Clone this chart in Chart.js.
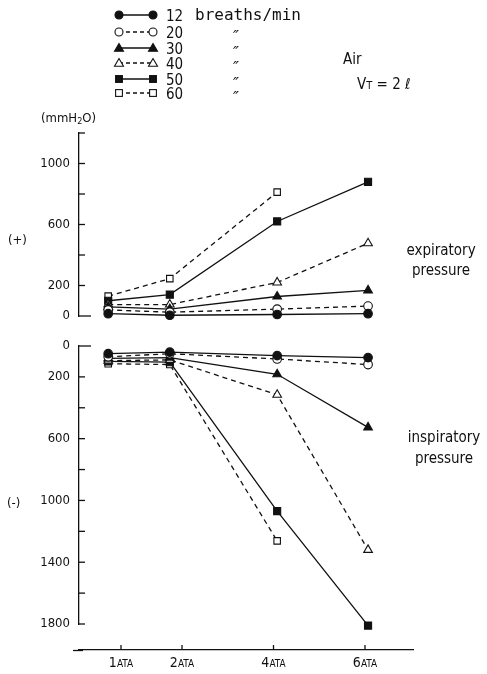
<!DOCTYPE html>
<html><head><meta charset="utf-8">
<script src="https://cdn.jsdelivr.net/npm/chart.js@4/dist/chart.umd.min.js"></script>
<style>
html,body{margin:0;padding:0;background:#fff;}
#wrap{position:relative;width:487px;height:674px;overflow:hidden;font-family:"DejaVu Sans Condensed","DejaVu Sans",sans-serif;color:#111;}
#c{position:absolute;left:0;top:0;}
#leg{position:absolute;left:0;top:0;}
.t{position:absolute;white-space:nowrap;line-height:1;}
</style></head><body>
<div id="wrap">
<canvas id="c" width="487" height="674"></canvas>
<svg id="leg" width="487" height="110"></svg>
<div class="t" style="left:195px;top:7px;font-family:'DejaVu Sans Mono',monospace;font-size:16px;">breaths/min</div>
<div class="t" style="left:343px;top:52px;font-size:15px;">Air</div>
<div class="t" style="left:357px;top:77px;font-size:15px;">V<span style="font-size:11px;">T</span> = 2 ℓ</div>
<div class="t" style="left:41px;top:111px;font-size:13px;">(mmH<sub style="font-size:9px;vertical-align:-2px;">2</sub>O)</div>
<div class="t" style="left:8px;top:233px;font-size:13px;">(+)</div>
<div class="t" style="left:7px;top:496px;font-size:13px;">(-)</div>
<div class="t" style="left:441px;top:240px;font-size:15px;transform:translateX(-50%);text-align:center;line-height:20px;">expiratory<br>pressure</div>
<div class="t" style="left:444px;top:427px;font-size:15px;transform:translateX(-50%);text-align:center;line-height:21px;">inspiratory<br>pressure</div>
</div>
<script>
// ---- data ----
const rates = ['12', '20', '30', '40', '50', '60'];
const ataNumbers = ['1', '2', '4', '6'];
const tickPos = [0, 1, 2.5, 4];            // where the ATA ticks sit on the drawn axis
const colPos = [-0.21, 0.80, 2.56, 4.05];  // where each ATA column of points sits
// expiratory pressure (mmH2O), positive panel
const exp12 = [15, 5, 10, 15];
const exp20 = [40, 25, 45, 65];
const exp30 = [60, 45, 128, 168];
const exp40 = [75, 75, 220, 477];
const exp50 = [100, 140, 620, 880];
const exp60 = [130, 245, 812, null];
// inspiratory pressure (mmH2O), negative panel (drawn downward)
const insp12 = [50, 40, 62, 75];
const insp20 = [70, 50, 84, 120];
const insp30 = [80, 75, 183, 527];
const insp40 = [95, 90, 316, 1320];
const insp50 = [100, 105, 1069, 1810];
const insp60 = [115, 120, 1262, null];
const topTicksLabelled = [0, 200, 600, 1000];
const botTicksLabelled = [0, 200, 600, 1000, 1400, 1800];

// ---- styles ----
const INK = '#111';
const styles = [
  {shape: 'circle', fill: INK, dash: [], r: 4.3},
  {shape: 'circle', fill: '#fff', dash: [5, 4], r: 4.3},
  {shape: 'triangle', fill: INK, dash: [], r: 5},
  {shape: 'triangle', fill: '#fff', dash: [5, 4], r: 5},
  {shape: 'rect', fill: INK, dash: [], r: 5},
  {shape: 'rect', fill: '#fff', dash: [5, 4], r: 4.6}
];
const expSeries = [exp12, exp20, exp30, exp40, exp50, exp60];
const inspSeries = [insp12, insp20, insp30, insp40, insp50, insp60];

function toPts(arr) {
  const out = [];
  arr.forEach((v, i) => { if (v !== null) out.push({x: colPos[i], y: v}); });
  return out;
}
function makeDs(arr, k, axis) {
  const s = styles[k];
  return {
    label: rates[k] + ' ' + axis, data: toPts(arr), yAxisID: axis,
    borderColor: INK, borderWidth: 1.3, borderDash: s.dash,
    pointStyle: s.shape, pointRadius: s.r, pointHoverRadius: s.r,
    pointBackgroundColor: s.fill, pointBorderColor: INK, pointBorderWidth: 1.1,
    tension: 0, fill: false, clip: false
  };
}
const datasets = [];
expSeries.forEach((a, k) => datasets.push(makeDs(a, k, 'yTop')));
inspSeries.forEach((a, k) => datasets.push(makeDs(a, k, 'yBot')));

const tickFont = {family: '"DejaVu Sans Condensed","DejaVu Sans",sans-serif', size: 13};
function yAxis(extra) {
  return Object.assign({
    type: 'linear', position: 'left', stack: 'panels',
    grid: {display: false, drawTicks: false},
    border: {display: true, color: INK, width: 1.3},
    afterFit(s) { s.width = 79; }
  }, extra);
}
function gapAxis(extra) {
  return Object.assign({
    type: 'linear', position: 'left', stack: 'panels', min: 0, max: 1,
    grid: {display: false, drawTicks: false},
    border: {display: false},
    ticks: {display: false},
    afterFit(s) { s.width = 79; }
  }, extra);
}

const deco = {
  id: 'deco',
  afterDraw(chart) {
    const ctx = chart.ctx;
    ctx.save();
    ctx.strokeStyle = INK; ctx.lineWidth = 1.3; ctx.setLineDash([]);
    ['yTop', 'yBot'].forEach(id => {
      const s = chart.scales[id];
      s.ticks.forEach(t => {
        const y = s.getPixelForValue(t.value);
        const len = t.value === 0 ? 12 : 6;
        ctx.beginPath(); ctx.moveTo(s.right, y); ctx.lineTo(s.right + len, y); ctx.stroke();
      });
    });
    const xs = chart.scales.x;
    const yAx = Math.round(xs.top) + 0.5;
    // x axis line continues a little to the left of the y axes, as in the figure
    ctx.beginPath(); ctx.moveTo(xs.left - 6, yAx); ctx.lineTo(xs.left + 4, yAx); ctx.stroke();
    ctx.fillStyle = INK; ctx.textBaseline = 'alphabetic';
    tickPos.forEach((p, i) => {
      const px = xs.getPixelForValue(p);
      ctx.beginPath(); ctx.moveTo(px, xs.top); ctx.lineTo(px, xs.top - 5); ctx.stroke();
      const f1 = '14px "DejaVu Sans Condensed","DejaVu Sans",sans-serif';
      const f2 = '10px "DejaVu Sans Condensed","DejaVu Sans",sans-serif';
      ctx.font = f1; const w1 = ctx.measureText(ataNumbers[i]).width;
      ctx.font = f2; const w2 = ctx.measureText('ATA').width;
      const x0 = px - (w1 + w2) / 2;
      ctx.font = f1; ctx.fillText(ataNumbers[i], x0, 667);
      ctx.font = f2; ctx.fillText('ATA', x0 + w1, 667);
    });
    ctx.restore();
  }
};

new Chart(document.getElementById('c'), {
  type: 'line',
  data: {datasets},
  options: {
    responsive: false, animation: false,
    layout: {padding: {left: 0, right: 74, top: 133, bottom: 0}},
    plugins: {legend: {display: false}, tooltip: {enabled: false}},
    scales: {
      x: {
        type: 'linear', position: 'bottom',
        min: -42 / 61, max: 292 / 61,
        grid: {display: false, drawTicks: false},
        border: {display: true, color: INK, width: 1.3},
        ticks: {display: false},
        afterFit(s) { s.height = 24; }
      },
      yTop: yAxis({
        weight: 4, stackWeight: 183, min: 0, max: 1200,
        ticks: {stepSize: 200, autoSkip: false, padding: 9, color: INK, font: tickFont,
          callback: v => topTicksLabelled.includes(v) ? String(v) : ''}
      }),
      gap1: gapAxis({weight: 3, stackWeight: 30}),
      yBot: yAxis({
        weight: 2, stackWeight: 278, min: 0, max: 1800, reverse: true,
        ticks: {stepSize: 200, autoSkip: false, padding: 9, color: INK, font: tickFont,
          callback: v => botTicksLabelled.includes(v) ? String(v) : ''}
      }),
      gap2: gapAxis({weight: 1, stackWeight: 26})
    }
  },
  plugins: [deco]
});

// ---- legend (symbols + numbers + ditto marks) ----
const legRows = [15, 32, 48, 63, 79, 93];
const svgNS = 'http://www.w3.org/2000/svg';
const leg = document.getElementById('leg');
function el(tag, attrs, text) {
  const e = document.createElementNS(svgNS, tag);
  for (const k in attrs) e.setAttribute(k, attrs[k]);
  if (text !== undefined) e.textContent = text;
  leg.appendChild(e);
  return e;
}
function marker(shape, fill, x, y) {
  const common = {fill: fill, stroke: INK, 'stroke-width': 1.1};
  if (shape === 'circle') el('circle', Object.assign({cx: x, cy: y, r: 4}, common));
  else if (shape === 'triangle') el('polygon', Object.assign({points: `${x},${y - 4.5} ${x + 4.5},${y + 3.2} ${x - 4.5},${y + 3.2}`}, common));
  else el('rect', Object.assign({x: x - 3.4, y: y - 3.4, width: 6.8, height: 6.8}, common));
}
rates.forEach((r, k) => {
  const y = legRows[k], s = styles[k];
  el('line', {x1: 119, y1: y, x2: 153, y2: y, stroke: INK, 'stroke-width': 1.3,
    'stroke-dasharray': s.dash.length ? '4 3' : 'none'});
  marker(s.shape, s.fill, 119, y);
  marker(s.shape, s.fill, 153, y);
  el('text', {x: 166, y: y + 5.5, 'font-family': '"DejaVu Sans Condensed","DejaVu Sans",sans-serif',
    'font-size': 15, fill: INK}, r);
  if (k > 0) el('text', {x: 233, y: y + 10, 'font-family': '"DejaVu Sans",sans-serif',
    'font-size': 16, 'font-style': 'italic', fill: INK}, '″');
});
</script>
</body></html>
